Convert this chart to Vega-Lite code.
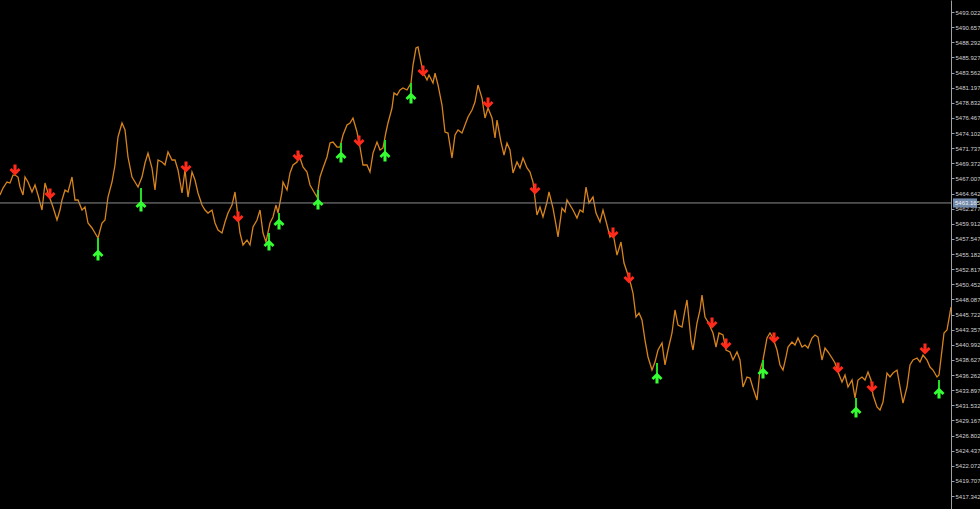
{
  "$schema": "https://vega.github.io/schema/vega-lite/v6.json",
  "width": 951,
  "height": 509,
  "autosize": {"type": "none"},
  "padding": {"left": 0, "top": 0, "right": 29, "bottom": 0},
  "background": "#000000",
  "config": {"view": {"stroke": null}, "axis": {"labelOverlap": false}},
  "datasets": {
    "price": [
      {"bar":0,"price":5464.41},{"bar":3,"price":5465.50},{"bar":7,"price":5466.44},{"bar":10,"price":5466.28},{"bar":13,"price":5467.53},{"bar":15,"price":5467.53},{"bar":18,"price":5467.22},{"bar":20,"price":5465.66},{"bar":23,"price":5464.41},{"bar":25,"price":5467.22},{"bar":28,"price":5466.44},{"bar":32,"price":5464.88},{"bar":35,"price":5465.97},{"bar":38,"price":5464.41},{"bar":42,"price":5462.06},{"bar":45,"price":5466.28},{"bar":48,"price":5464.72},{"bar":53,"price":5462.53},{"bar":57,"price":5460.50},{"bar":60,"price":5462.06},{"bar":62,"price":5463.63},{"bar":65,"price":5465.19},{"bar":68,"price":5464.88},{"bar":72,"price":5467.22},{"bar":75,"price":5463.63},{"bar":78,"price":5463.63},{"bar":82,"price":5462.06},{"bar":85,"price":5462.53},{"bar":88,"price":5460.03},{"bar":92,"price":5459.25},{"bar":95,"price":5458.47},{"bar":98,"price":5457.68},{"bar":102,"price":5460.03},{"bar":105,"price":5460.50},{"bar":108,"price":5464.09},{"bar":112,"price":5466.44},{"bar":115,"price":5469.10},{"bar":118,"price":5473.48},{"bar":122,"price":5475.67},{"bar":125,"price":5474.57},{"bar":128,"price":5470.35},{"bar":132,"price":5467.22},{"bar":135,"price":5466.44},{"bar":138,"price":5465.66},{"bar":142,"price":5467.22},{"bar":145,"price":5469.41},{"bar":148,"price":5470.97},{"bar":152,"price":5468.63},{"bar":155,"price":5465.19},{"bar":158,"price":5469.88},{"bar":162,"price":5469.57},{"bar":165,"price":5469.10},{"bar":168,"price":5471.13},{"bar":172,"price":5469.88},{"bar":175,"price":5469.88},{"bar":178,"price":5468.32},{"bar":182,"price":5464.72},{"bar":185,"price":5468.32},{"bar":188,"price":5464.09},{"bar":192,"price":5468.00},{"bar":195,"price":5466.75},{"bar":198,"price":5464.72},{"bar":202,"price":5462.84},{"bar":205,"price":5462.06},{"bar":208,"price":5461.59},{"bar":212,"price":5462.06},{"bar":215,"price":5460.03},{"bar":218,"price":5458.93},{"bar":222,"price":5458.47},{"bar":225,"price":5460.19},{"bar":228,"price":5461.59},{"bar":232,"price":5462.84},{"bar":235,"price":5464.88},{"bar":238,"price":5460.97},{"bar":240,"price":5458.47},{"bar":243,"price":5456.59},{"bar":247,"price":5457.37},{"bar":250,"price":5456.59},{"bar":253,"price":5459.40},{"bar":257,"price":5460.50},{"bar":260,"price":5462.06},{"bar":263,"price":5458.47},{"bar":266,"price":5457.06},{"bar":270,"price":5460.03},{"bar":273,"price":5460.97},{"bar":276,"price":5462.84},{"bar":278,"price":5461.59},{"bar":282,"price":5464.88},{"bar":283,"price":5466.44},{"bar":287,"price":5465.19},{"bar":290,"price":5467.85},{"bar":293,"price":5469.10},{"bar":297,"price":5469.57},{"bar":299,"price":5470.66},{"bar":303,"price":5468.79},{"bar":307,"price":5468.00},{"bar":310,"price":5465.97},{"bar":314,"price":5464.88},{"bar":317,"price":5464.09},{"bar":320,"price":5467.22},{"bar":323,"price":5468.63},{"bar":327,"price":5470.35},{"bar":330,"price":5472.54},{"bar":333,"price":5472.69},{"bar":337,"price":5471.91},{"bar":340,"price":5471.91},{"bar":343,"price":5473.79},{"bar":347,"price":5475.35},{"bar":350,"price":5475.67},{"bar":353,"price":5476.45},{"bar":357,"price":5474.26},{"bar":360,"price":5471.91},{"bar":363,"price":5469.10},{"bar":367,"price":5469.10},{"bar":370,"price":5468.00},{"bar":373,"price":5470.97},{"bar":377,"price":5472.69},{"bar":380,"price":5471.44},{"bar":383,"price":5471.76},{"bar":386,"price":5474.26},{"bar":388,"price":5475.67},{"bar":392,"price":5478.01},{"bar":394,"price":5480.36},{"bar":397,"price":5480.04},{"bar":400,"price":5480.83},{"bar":403,"price":5481.14},{"bar":407,"price":5480.83},{"bar":411,"price":5481.92},{"bar":413,"price":5484.73},{"bar":416,"price":5487.39},{"bar":418,"price":5487.55},{"bar":421,"price":5485.20},{"bar":423,"price":5483.64},{"bar":427,"price":5482.39},{"bar":429,"price":5483.17},{"bar":433,"price":5481.92},{"bar":435,"price":5483.48},{"bar":438,"price":5481.61},{"bar":442,"price":5478.48},{"bar":445,"price":5474.26},{"bar":448,"price":5474.10},{"bar":452,"price":5470.19},{"bar":455,"price":5473.79},{"bar":458,"price":5474.57},{"bar":462,"price":5474.10},{"bar":465,"price":5475.35},{"bar":468,"price":5476.60},{"bar":472,"price":5477.70},{"bar":475,"price":5478.95},{"bar":478,"price":5481.61},{"bar":482,"price":5479.57},{"bar":485,"price":5476.45},{"bar":488,"price":5478.01},{"bar":492,"price":5476.45},{"bar":495,"price":5473.32},{"bar":497,"price":5476.13},{"bar":501,"price":5472.69},{"bar":504,"price":5470.66},{"bar":507,"price":5472.54},{"bar":510,"price":5471.44},{"bar":513,"price":5467.85},{"bar":517,"price":5469.57},{"bar":520,"price":5468.63},{"bar":523,"price":5470.19},{"bar":527,"price":5468.63},{"bar":530,"price":5468.00},{"bar":533,"price":5466.44},{"bar":537,"price":5461.28},{"bar":540,"price":5462.53},{"bar":543,"price":5460.97},{"bar":547,"price":5463.31},{"bar":549,"price":5464.88},{"bar":553,"price":5462.37},{"bar":556,"price":5459.72},{"bar":558,"price":5457.84},{"bar":562,"price":5462.37},{"bar":565,"price":5461.75},{"bar":567,"price":5463.63},{"bar":570,"price":5462.84},{"bar":573,"price":5462.06},{"bar":577,"price":5460.81},{"bar":580,"price":5462.06},{"bar":583,"price":5461.75},{"bar":586,"price":5465.66},{"bar":589,"price":5463.16},{"bar":593,"price":5464.09},{"bar":596,"price":5461.59},{"bar":600,"price":5460.19},{"bar":603,"price":5462.06},{"bar":607,"price":5459.72},{"bar":610,"price":5457.84},{"bar":613,"price":5458.47},{"bar":617,"price":5455.02},{"bar":621,"price":5457.06},{"bar":624,"price":5453.77},{"bar":627,"price":5452.37},{"bar":631,"price":5450.33},{"bar":633,"price":5449.08},{"bar":636,"price":5445.33},{"bar":639,"price":5445.96},{"bar":642,"price":5444.86},{"bar":645,"price":5441.73},{"bar":648,"price":5439.08},{"bar":652,"price":5437.04},{"bar":655,"price":5438.29},{"bar":658,"price":5440.17},{"bar":662,"price":5441.27},{"bar":665,"price":5437.83},{"bar":668,"price":5440.17},{"bar":672,"price":5442.83},{"bar":675,"price":5446.43},{"bar":678,"price":5444.08},{"bar":682,"price":5443.77},{"bar":685,"price":5446.43},{"bar":687,"price":5447.99},{"bar":691,"price":5441.73},{"bar":693,"price":5440.17},{"bar":697,"price":5444.39},{"bar":700,"price":5446.43},{"bar":702,"price":5448.77},{"bar":705,"price":5445.33},{"bar":708,"price":5444.55},{"bar":713,"price":5442.83},{"bar":716,"price":5440.64},{"bar":719,"price":5442.83},{"bar":723,"price":5442.52},{"bar":726,"price":5440.17},{"bar":730,"price":5439.86},{"bar":733,"price":5438.61},{"bar":737,"price":5439.86},{"bar":740,"price":5438.61},{"bar":743,"price":5434.39},{"bar":747,"price":5435.95},{"bar":750,"price":5435.79},{"bar":753,"price":5434.23},{"bar":757,"price":5432.35},{"bar":760,"price":5437.04},{"bar":763,"price":5438.61},{"bar":767,"price":5442.05},{"bar":770,"price":5442.83},{"bar":773,"price":5442.05},{"bar":777,"price":5440.17},{"bar":780,"price":5437.83},{"bar":783,"price":5437.04},{"bar":786,"price":5439.08},{"bar":788,"price":5440.64},{"bar":792,"price":5441.42},{"bar":795,"price":5440.95},{"bar":798,"price":5442.05},{"bar":802,"price":5440.64},{"bar":805,"price":5440.95},{"bar":808,"price":5440.48},{"bar":812,"price":5442.05},{"bar":815,"price":5442.52},{"bar":818,"price":5442.20},{"bar":822,"price":5438.61},{"bar":825,"price":5440.48},{"bar":828,"price":5439.86},{"bar":832,"price":5438.92},{"bar":835,"price":5438.14},{"bar":838,"price":5436.73},{"bar":842,"price":5435.17},{"bar":845,"price":5436.26},{"bar":848,"price":5434.39},{"bar":852,"price":5435.48},{"bar":855,"price":5432.67},{"bar":858,"price":5435.48},{"bar":862,"price":5435.95},{"bar":865,"price":5435.48},{"bar":868,"price":5436.73},{"bar":871,"price":5435.48},{"bar":873,"price":5433.13},{"bar":877,"price":5431.26},{"bar":880,"price":5430.79},{"bar":883,"price":5432.04},{"bar":887,"price":5436.57},{"bar":890,"price":5435.95},{"bar":893,"price":5436.57},{"bar":897,"price":5437.04},{"bar":900,"price":5434.39},{"bar":903,"price":5431.88},{"bar":907,"price":5434.39},{"bar":910,"price":5437.83},{"bar":913,"price":5438.61},{"bar":917,"price":5438.92},{"bar":920,"price":5438.29},{"bar":923,"price":5439.39},{"bar":927,"price":5438.61},{"bar":930,"price":5437.51},{"bar":933,"price":5437.04},{"bar":937,"price":5435.95},{"bar":939,"price":5436.26},{"bar":942,"price":5440.17},{"bar":944,"price":5442.83},{"bar":947,"price":5443.30},{"bar":950,"price":5445.96},{"bar":951,"price":5446.89}
    ],
    "down": [
      {"bar":15,"level":5468.32},{"bar":50,"level":5464.56},{"bar":186,"level":5468.79},{"bar":238,"level":5460.97},{"bar":298,"level":5470.51},{"bar":359,"level":5472.85},{"bar":423,"level":5483.80},{"bar":488,"level":5478.79},{"bar":535,"level":5465.35},{"bar":613,"level":5458.47},{"bar":629,"level":5451.43},{"bar":712,"level":5444.39},{"bar":726,"level":5441.11},{"bar":774,"level":5442.05},{"bar":838,"level":5437.36},{"bar":872,"level":5434.39},{"bar":925,"level":5440.33}
    ],
    "up": [
      {"bar":98,"low":5457.68,"level":5455.02},{"bar":141,"low":5465.50,"level":5462.69},{"bar":269,"low":5458.47,"level":5456.59},{"bar":279,"low":5461.59,"level":5459.87},{"bar":318,"low":5465.19,"level":5463.00},{"bar":341,"low":5472.54,"level":5470.35},{"bar":385,"low":5473.01,"level":5470.51},{"bar":411,"low":5481.92,"level":5479.57},{"bar":657,"low":5438.14,"level":5435.79},{"bar":763,"low":5438.61,"level":5436.57},{"bar":856,"low":5432.67,"level":5430.48},{"bar":939,"low":5435.48,"level":5433.45}
    ],
    "current": [{"bar":951,"price":5463.165}]
  },
  "layer": [
    {
      "data": {"name": "price"},
      "mark": {"type": "line", "color": "#d8841c", "strokeWidth": 1.3, "interpolate": "linear"},
      "encoding": {
        "x": {"field": "bar", "type": "quantitative", "scale": {"domain": [0, 951], "nice": false, "zero": false}, "axis": null},
        "y": {"field": "price", "type": "quantitative",
          "scale": {"domain": [5415.31, 5494.9], "nice": false, "zero": false},
          "axis": {
            "orient": "right",
            "values": [5417.342,5419.707,5422.072,5424.437,5426.802,5429.167,5431.532,5433.897,5436.262,5438.627,5440.992,5443.357,5445.722,5448.087,5450.452,5452.817,5455.182,5457.547,5459.912,5462.277,5464.642,5467.007,5469.372,5471.737,5474.102,5476.467,5478.832,5481.197,5483.562,5485.927,5488.292,5490.657,5493.022],
            "tickCount": 60,
            "format": ".3f",
            "title": null,
            "grid": false,
            "labelColor": "#d0d0d0",
            "labelFont": "Liberation Sans",
            "labelFontSize": 6,
            "labelPadding": 1,
            "labelOverlap": false,
            "labelFlush": false,
            "labelBound": false,
            "domainColor": "#a0a0a0",
            "tickColor": "#a0a0a0",
            "tickSize": 3
          }
        }
      }
    },
    {
      "data": {"name": "current"},
      "mark": {"type": "rule", "color": "#8c8c8c", "strokeWidth": 1},
      "encoding": {
        "y": {"field": "price", "type": "quantitative"}
      }
    },
    {
      "data": {"name": "up"},
      "mark": {"type": "rule", "color": "#22dd22", "strokeWidth": 2},
      "encoding": {
        "x": {"field": "bar", "type": "quantitative"},
        "y": {"field": "low", "type": "quantitative"},
        "y2": {"field": "level"}
      }
    },
    {
      "data": {"name": "down"},
      "mark": {"type": "point", "filled": true, "color": "#ff2a1a", "opacity": 1, "size": 121,
        "shape": "M-0.28,-1 L0.28,-1 L0.28,0.02 L0.65,-0.35 L1,0 L0,1 L-1,0 L-0.65,-0.35 L-0.28,0.02 Z"},
      "encoding": {
        "x": {"field": "bar", "type": "quantitative"},
        "y": {"field": "level", "type": "quantitative"}
      }
    },
    {
      "data": {"name": "up"},
      "mark": {"type": "point", "filled": true, "color": "#33ff33", "opacity": 1, "size": 121,
        "shape": "M-0.28,1 L0.28,1 L0.28,-0.02 L0.65,0.35 L1,0 L0,-1 L-1,0 L-0.65,0.35 L-0.28,-0.02 Z"},
      "encoding": {
        "x": {"field": "bar", "type": "quantitative"},
        "y": {"field": "level", "type": "quantitative"}
      }
    },
    {
      "data": {"name": "current"},
      "mark": {"type": "point", "filled": true, "color": "#7088aa", "opacity": 1, "size": 576, "xOffset": 14,
        "shape": "M-1,-0.38 L1,-0.38 L1,0.38 L-1,0.38 Z"},
      "encoding": {
        "x": {"field": "bar", "type": "quantitative"},
        "y": {"field": "price", "type": "quantitative"}
      }
    },
    {
      "data": {"name": "current"},
      "mark": {"type": "text", "align": "left", "baseline": "middle", "dx": 4, "font": "Liberation Sans", "fontSize": 6, "color": "#f0f0f0"},
      "encoding": {
        "x": {"field": "bar", "type": "quantitative"},
        "y": {"field": "price", "type": "quantitative"},
        "text": {"field": "price", "type": "quantitative", "format": ".3f"}
      }
    }
  ]
}
